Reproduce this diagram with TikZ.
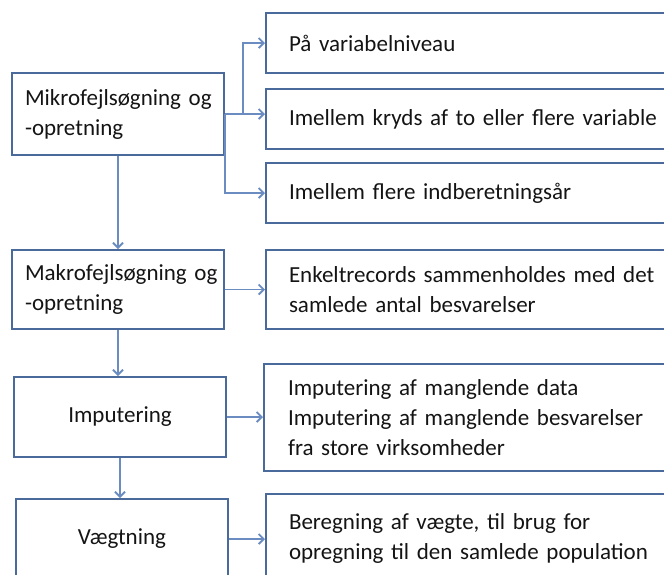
\documentclass[tikz,border=0pt]{standalone}
\usepackage{fontspec}
\setmainfont{Carlito}
\usetikzlibrary{arrows.meta}
\definecolor{boxc}{HTML}{4A6A9B}
\definecolor{arrc}{HTML}{6A8CC0}
\begin{document}
\begin{tikzpicture}[x=1pt,y=-1pt,
  font=\fontsize{23}{30}\selectfont,
  box/.style={draw=boxc, line width=2pt, rectangle, anchor=north west,
    inner ysep=0pt, text=black!92},
  lbox/.style={box, minimum width=212pt, text width=186pt, inner xsep=13pt, align=left},
  cbox/.style={box, minimum width=212pt, text width=186pt, inner xsep=13pt, align=center},
  rbox/.style={box, minimum width=440pt, text width=394pt, inner xsep=23pt, align=left},
  arr/.style={draw=arrc, line width=1.8pt, -{Straight Barb[length=5pt,width=10pt]}}]
\useasboundingbox (0,0) rectangle (664,574);
\clip (0,0) rectangle (664,574);
% left column
\node[lbox, minimum height=82pt] (mikro) at (11,72) {\mbox{Mikrofejlsøgning og}\\-opretning};
\node[lbox, minimum height=79pt] (makro) at (11,249) {\mbox{Makrofejlsøgning og}\\-opretning};
\node[cbox, minimum height=80pt] (imp) at (13,376) {Imputering};
\node[cbox, minimum height=80pt, minimum width=210pt] (vaeg) at (15,498) {Vægtning};
% right column
\node[rbox, minimum height=60pt] (r1) at (265,12) {På variabelniveau};
\node[rbox, minimum height=60pt] (r2) at (265,88) {Imellem kryds af to eller flere variable};
\node[rbox, minimum height=60pt] (r3) at (265,162) {Imellem flere indberetningsår};
\node[rbox, minimum height=79pt] (r4) at (265,249) {Enkeltrecords sammenholdes med det\\samlede antal besvarelser};
\node[rbox, minimum height=107pt, inner xsep=24pt] (r5) at (263,363) {Imputering af manglende data\\Imputering af manglende besvarelser\\fra store virksomheder};
\node[rbox, minimum height=88pt] (r6) at (265,493) {Beregning af vægte, til brug for\\opregning til den samlede population};
% connectors
\coordinate (j1) at (243,0);
\draw[arr] (mikro.east) -| (j1 |- r1.west) -- (r1.west);
\draw[arr] (mikro.east) -- (mikro.east -| r2.west);
\draw[arr] (mikro.east) |- (r3.west);
\draw[arr] (mikro.south) -- (makro.north);
\draw[arr] (makro.south) -- (makro.south |- imp.north);
\draw[arr] (imp.south) -- (imp.south |- vaeg.north);
\draw[arr] (makro.east) -- (r4.west);
\draw[arr] (imp.east) -- (imp.east -| r5.west);
\draw[arr] (vaeg.east) -- (vaeg.east -| r6.west);
\end{tikzpicture}
\end{document}
